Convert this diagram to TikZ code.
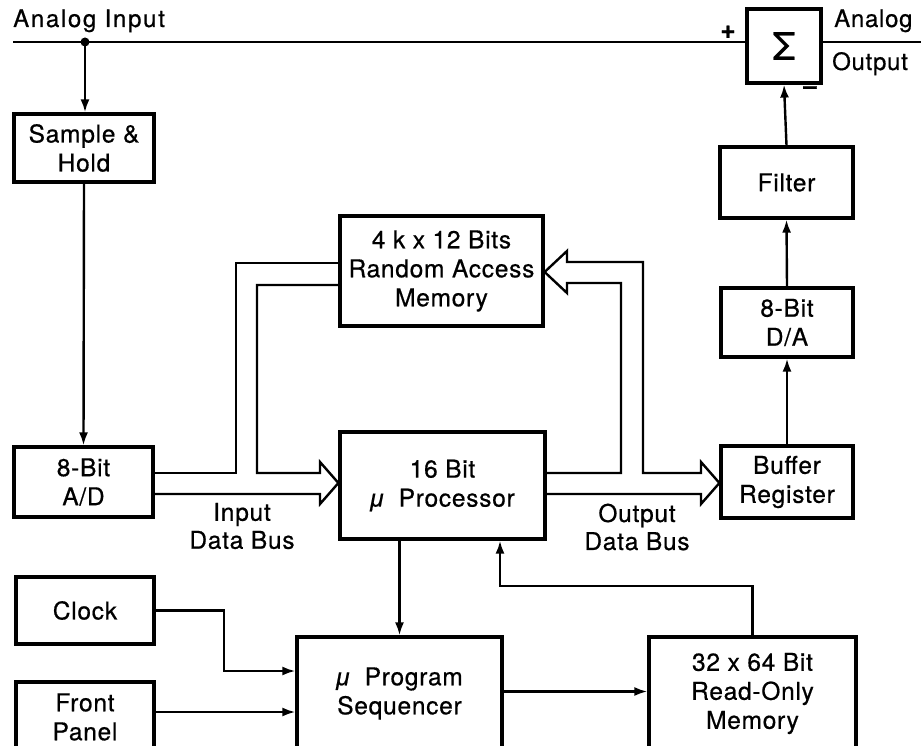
\RequirePackage{fix-cm}
\documentclass[tikz,border=0pt]{standalone}
\usepackage{fontspec}
\setmainfont{TeX Gyre Heros}[LetterSpace=3,FakeBold=0.6]
\newfontfamily\mufont{Liberation Sans}[FakeBold=0.6]
\newcommand{\mumark}{{\mufont\itshape μ}}
\usetikzlibrary{arrows.meta}
\begin{document}
\begin{tikzpicture}[x=1pt,y=-1pt,
  box/.style={draw, line width=3.2pt, align=center, inner sep=0pt, font=\fontsize{24.5}{29}\selectfont},
  conn/.style={line width=2.4pt, -{Latex[length=13pt,width=9pt]}},
  wire/.style={line width=2.4pt},
  bus/.style={line width=2.4pt, line join=miter},
  lbl/.style={inner sep=0pt, font=\fontsize{24.5}{28}\selectfont, align=center}]
\useasboundingbox (0,0) rectangle (921,746);
\clip (0,0) rectangle (921,746);

% boxes
\node[box, minimum width=140pt, minimum height=68pt] (sh) at (84,148) {Sample \&\\Hold};
\node[box, minimum width=139pt, minimum height=70pt] (ad) at (83.5,482) {8-Bit\\A/D};
\node[box, minimum width=138pt, minimum height=67pt] (clock) at (85,610.5) {Clock};
\node[box, minimum width=138pt, minimum height=70pt] (fp) at (85,717) {Front\\Panel};
\node[box, minimum width=205pt, minimum height=113pt] (seq) at (399.5,693.5) {\mumark\ \ Program\\Sequencer};
\node[box, minimum width=207pt, minimum height=113pt] (rom) at (752.5,693.5) {32 x 64 Bit\\Read-Only\\Memory};
\node[box, minimum width=205pt, minimum height=107pt] (proc) at (442.5,485.5) {16 Bit\\\mumark\ \ Processor};
\node[box, minimum width=203pt, minimum height=110pt] (ram) at (441.5,271) {4 k x 12 Bits\\Random Access\\Memory};
\node[box, minimum width=132pt, minimum height=72pt] (buf) at (787,482) {Buffer\\Register};
\node[box, minimum width=132pt, minimum height=69pt] (da) at (787,322.5) {8-Bit\\D/A};
\node[box, minimum width=133pt, minimum height=71pt] (filt) at (786.5,182.5) {Filter};
\node[box, minimum width=74pt, minimum height=74pt, font=\fontsize{38}{40}\selectfont] (sum) at (784,46) {Σ};

% analog input line
\coordinate (inl) at (13,42);
\coordinate (dot) at (85,42);
\coordinate (outr) at (921,42);
\draw[wire] (inl) -- (inl -| sum.west);
\draw[wire] (sum.east |- outr) -- (outr);
\fill (dot) circle (4.5pt);
\draw[conn] (dot) -- (dot |- sh.north);
\draw[conn] (sh.south) -- (ad.north);

% texts
\node[lbl, anchor=base west, font=\fontsize{24}{28}\selectfont\addfontfeatures{LetterSpace=7}] (ain) at (13,27) {Analog Input};
\node[lbl, anchor=base west, font=\fontsize{24}{28}\selectfont] (aout1) at (834,27) {Analog};
\node[lbl, anchor=base west, font=\fontsize{24}{28}\selectfont] (aout2) at (832,70) {Output};
\node[lbl, font=\bfseries\fontsize{26}{28}\selectfont] (plus) at (728,32) {+};
\node[lbl, font=\bfseries\fontsize{24}{26}\selectfont] (minus) at (810,90) {--};
\node[lbl] (ibl) at (242,526) {Input\\Data Bus};
\node[lbl] (obl) at (637,527) {Output\\Data Bus};

% right chain
\draw[conn] (buf.north) -- (da.south);
\draw[conn] (da.north) -- (filt.south);
\draw[conn] (filt.north) -- (sum.south);

% control connections
\coordinate (clk) at (224,671);
\draw[conn] (clock.east) -| (clk) -- (clk -| seq.west);
\draw[conn] ([yshift=5pt]fp.east) -- ([yshift=5pt]fp.east -| seq.west);
\draw[conn] ([yshift=2pt]seq.east) -- ([yshift=2pt]seq.east -| rom.west);
\draw[conn] (proc.south -| seq.north) -- (seq.north);
\coordinate (rp) at (500,586);
\draw[conn] (rom.north) |- (rp) -- (rp |- proc.south);

% input data bus
\draw[bus] (ad.east |- 0,473) -- (236,473) -- (236,263) -- (ram.west |- 0,263);
\draw[bus] (ram.west |- 0,285) -- (257,285) -- (257,473) -- (320,473) -- (320,462)
  -- (proc.west |- 0,483) -- (320,504) -- (320,494) -- (ad.east |- 0,494);

% output data bus
\draw[bus] (proc.east |- 0,473) -- (621,473) -- (621,283) -- (567,283) -- (567,293)
  -- (ram.east |- 0,272) -- (567,251) -- (567,262) -- (643,262) -- (643,473)
  -- (701,473) -- (701,462) -- (buf.west |- 0,483) -- (701,504) -- (701,494)
  -- (proc.east |- 0,494);
\end{tikzpicture}
\end{document}
